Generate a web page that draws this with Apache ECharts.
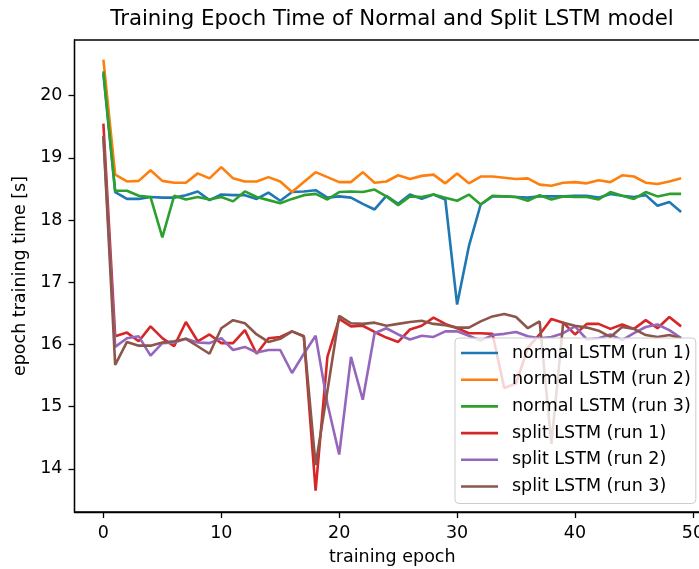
<!DOCTYPE html>
<html>
<head>
<meta charset="utf-8">
<script src="https://cdn.jsdelivr.net/npm/echarts@6/dist/echarts.min.js"></script>
<style>html,body{margin:0;padding:0;background:#fff}#chart{width:699px;height:569px}</style>
</head>
<body>
<div id="chart"></div>
<script>
const epochs = [0,1,2,3,4,5,6,7,8,9,10,11,12,13,14,15,16,17,18,19,20,21,22,23,24,25,26,27,28,29,30,31,32,33,34,35,36,37,38,39,40,41,42,43,44,45,46,47,48,49];
const normalRun1 = [20.35,18.45,18.34,18.34,18.37,18.36,18.36,18.40,18.46,18.32,18.41,18.40,18.40,18.34,18.44,18.31,18.45,18.46,18.48,18.36,18.38,18.36,18.26,18.17,18.39,18.26,18.41,18.34,18.41,18.33,16.64,17.58,18.25,18.38,18.38,18.37,18.36,18.38,18.38,18.38,18.39,18.39,18.36,18.42,18.39,18.37,18.40,18.23,18.29,18.13];
const normalRun2 = [20.58,18.73,18.62,18.63,18.80,18.63,18.60,18.60,18.75,18.67,18.85,18.67,18.62,18.62,18.69,18.62,18.45,18.61,18.77,18.69,18.61,18.61,18.77,18.60,18.62,18.72,18.66,18.71,18.73,18.59,18.75,18.59,18.70,18.70,18.68,18.66,18.67,18.57,18.55,18.60,18.61,18.59,18.64,18.61,18.72,18.70,18.60,18.58,18.62,18.67];
const normalRun3 = [20.39,18.47,18.47,18.39,18.37,17.72,18.39,18.33,18.37,18.33,18.37,18.30,18.46,18.37,18.32,18.27,18.34,18.40,18.42,18.33,18.45,18.46,18.45,18.49,18.38,18.24,18.38,18.37,18.41,18.36,18.31,18.41,18.25,18.39,18.38,18.37,18.31,18.40,18.33,18.38,18.37,18.37,18.33,18.45,18.39,18.34,18.45,18.38,18.42,18.42];
const splitRun1 = [19.55,16.13,16.19,16.05,16.29,16.10,15.97,16.36,16.05,16.16,16.02,16.02,16.23,15.85,16.10,16.12,16.21,16.13,13.65,15.80,16.41,16.29,16.30,16.20,16.11,16.04,16.24,16.30,16.43,16.33,16.26,16.18,16.18,16.17,15.30,15.37,15.95,16.16,16.41,16.35,16.16,16.33,16.33,16.25,16.32,16.25,16.39,16.26,16.44,16.29];
const splitRun2 = [19.35,15.96,16.10,16.13,15.82,16.02,16.03,16.09,16.03,16.02,16.10,15.91,15.96,15.87,15.91,15.91,15.54,15.85,16.14,15.05,14.23,15.80,15.11,16.18,16.26,16.16,16.08,16.14,16.12,16.21,16.21,16.14,16.06,16.15,16.17,16.20,16.13,16.10,16.12,16.18,16.29,16.08,16.10,16.16,16.07,16.18,16.28,16.32,16.23,16.10];
const splitRun3 = [19.35,15.67,16.04,15.98,15.98,16.03,16.05,16.09,15.97,15.85,16.26,16.39,16.34,16.16,16.04,16.09,16.21,16.13,14.06,15.25,16.46,16.34,16.33,16.35,16.30,16.33,16.36,16.38,16.33,16.31,16.27,16.27,16.37,16.45,16.49,16.44,16.26,16.37,14.40,16.35,16.30,16.27,16.22,16.12,16.28,16.25,16.15,16.12,16.15,16.10];
const seriesNames = ['normal LSTM (run 1)','normal LSTM (run 2)','normal LSTM (run 3)','split LSTM (run 1)','split LSTM (run 2)','split LSTM (run 3)'];
const seriesColors = ['#1f77b4','#ff7f0e','#2ca02c','#d62728','#9467bd','#8c564b'];
const xTicks = [0,10,20,30,40,50];
const yTicks = [14,15,16,17,18,19,20];
const titleText = 'Training Epoch Time of Normal and Split LSTM model';
const xLabel = 'training epoch';
const yLabel = 'epoch training time [s]';

const allSeries = [normalRun1, normalRun2, normalRun3, splitRun1, splitRun2, splitRun3];
const FONT = 'DejaVu Sans';
const chart = echarts.init(document.getElementById('chart'), null, {renderer: 'canvas'});
chart.setOption({
  animation: false,
  backgroundColor: '#fff',
  title: {
    text: titleText,
    left: 387, top: 4, textAlign: 'center',
    textStyle: {fontFamily: FONT, fontSize: 21.3, fontWeight: 'normal', color: '#000'}
  },
  grid: {left: 74.5, top: 40, right: -11, bottom: 57, show: true, borderColor: '#000', borderWidth: 1.3,
         backgroundColor: 'transparent', outerBoundsMode: 'none', containLabel: false},
  legend: {
    orient: 'vertical', left: 455, top: 338,
    padding: [6, 5, 8, 6],
    itemWidth: 37, itemHeight: 2.6, itemGap: 8.7,
    icon: 'rect',
    backgroundColor: 'rgba(255,255,255,0.8)',
    borderColor: '#cccccc', borderWidth: 1, borderRadius: 4,
    textStyle: {fontFamily: FONT, fontSize: 17.5, color: '#000', lineHeight: 18, padding: [0,0,0,9]},
    data: seriesNames
  },
  xAxis: {
    type: 'value', min: -2.45, max: 51.45,
    name: xLabel, nameLocation: 'middle', nameGap: 36,
    nameTextStyle: {fontFamily: FONT, fontSize: 17.5, color: '#000'},
    axisLine: {show: true, onZero: false, lineStyle: {color: '#000', width: 1.3}},
    axisTick: {show: true, length: 6, lineStyle: {color: '#000', width: 1.3}, customValues: xTicks},
    axisLabel: {fontFamily: FONT, fontSize: 17.5, color: '#000', margin: 12, customValues: xTicks},
    splitLine: {show: false}
  },
  yAxis: {
    type: 'value', min: 13.305, max: 20.895,
    name: yLabel, nameLocation: 'middle', nameGap: 44, nameRotate: 90,
    nameTextStyle: {fontFamily: FONT, fontSize: 17.5, color: '#000'},
    axisLine: {show: true, onZero: false, lineStyle: {color: '#000', width: 1.3}},
    axisTick: {show: true, length: 6, lineStyle: {color: '#000', width: 1.3}, customValues: yTicks},
    axisLabel: {fontFamily: FONT, fontSize: 17.5, color: '#000', margin: 12, customValues: yTicks},
    splitLine: {show: false}
  },
  series: allSeries.map((vals, i) => ({
    name: seriesNames[i],
    type: 'line',
    data: epochs.map((e, j) => [e, vals[j]]),
    symbol: 'none',
    showSymbol: false,
    smooth: false,
    color: seriesColors[i],
    lineStyle: {color: seriesColors[i], width: 2.6},
    itemStyle: {color: seriesColors[i]}
  }))
});
</script>
</body>
</html>
